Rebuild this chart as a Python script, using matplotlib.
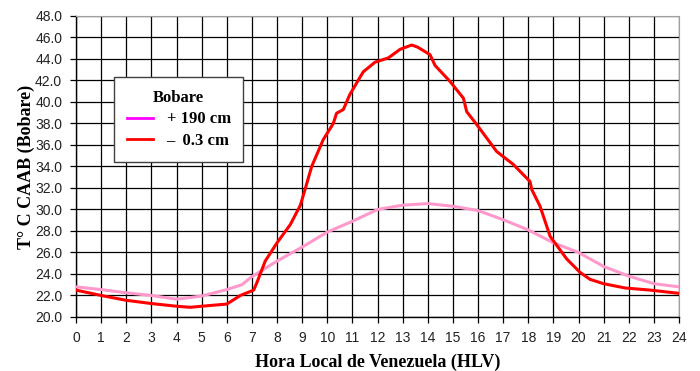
import numpy as np
import matplotlib.pyplot as plt
from matplotlib.lines import Line2D

# Bobare: air temperature at +190 cm (hourly)
hora_190 = [0, 1, 2, 3, 4, 5, 6, 6.6, 7, 8, 9, 10, 11, 12, 13, 14, 15, 16,
            17, 18, 19, 20, 21, 22, 23, 24]
temp_190 = [22.8, 22.55, 22.25, 22.0, 21.65, 21.95, 22.55, 23.0, 23.75, 25.2,
            26.5, 27.9, 28.9, 30.0, 30.4, 30.55, 30.3, 29.9, 29.05, 28.1,
            26.9, 26.0, 24.7, 23.8, 23.1, 22.8]

# Bobare: soil surface at -0.3 cm
hora_03 = [0, 1, 2, 3, 4, 4.55, 5, 6, 6.54, 7.07, 7.2, 7.53, 8, 8.53, 8.93,
           9.12, 9.38, 9.84, 10.24, 10.37, 10.64, 10.9, 11.43, 11.9, 12.43,
           12.9, 13.36, 13.6, 14.09, 14.29, 14.89, 15.42, 15.55, 15.95, 16.74,
           17.4, 18.07, 18.14, 18.47, 18.87, 19.53, 20.06, 20.46, 20.99,
           21.85, 22.85, 24]
temp_03 = [22.5, 22.0, 21.55, 21.25, 21.0, 20.9, 21.0, 21.2, 22.0, 22.5, 23.2,
           25.2, 26.9, 28.6, 30.4, 31.9, 34.0, 36.5, 38.0, 38.95, 39.3, 40.7,
           42.8, 43.7, 44.1, 44.9, 45.3, 45.1, 44.4, 43.4, 41.9, 40.35, 39.1,
           37.9, 35.4, 34.2, 32.6, 31.85, 30.3, 27.5, 25.4, 24.15, 23.5, 23.1,
           22.7, 22.5, 22.2]

x_ticks = list(range(0, 25))
y_ticks = np.arange(20, 49, 2)

fig = plt.figure(figsize=(7, 3.71), dpi=100)
ax = fig.add_axes([0.1086, 0.1456, 0.8614, 0.8113])

ax.plot(hora_190, temp_190, color='#ff99cc', lw=2.2, zorder=3)
ax.plot(hora_03, temp_03, color='#ff0000', lw=2.2, zorder=4)

ax.set_xlim(0, 24)
ax.set_ylim(20, 48)
ax.set_xticks(x_ticks)
ax.set_yticks(y_ticks)
ax.set_yticklabels([f"{v:.1f}" for v in y_ticks])
ax.grid(True, color='black', lw=0.9)
ax.set_axisbelow(True)

for side in ['top', 'right']:
    ax.spines[side].set_color('#a0a0a0')
for side in ['left', 'bottom']:
    ax.spines[side].set_color('black')
    ax.spines[side].set_linewidth(1.0)

ax.tick_params(axis='both', direction='out', length=4, width=0.9,
               labelsize=10, labelcolor='#222222', pad=6)
for lbl in ax.get_xticklabels() + ax.get_yticklabels():
    lbl.set_family('Liberation Sans')

ax.set_xlabel('Hora Local de Venezuela (HLV)', family='Liberation Serif',
              weight='bold', fontsize=13, labelpad=6)
ax.set_ylabel('T° C CAAB (Bobare)', family='Liberation Serif',
              weight='bold', fontsize=13, labelpad=0)

handles = [Line2D([], [], color='#ff00ff', lw=2),
           Line2D([], [], color='#ff0000', lw=2)]
leg = ax.legend(handles, ['+ 190 cm', '–  0.3 cm'], title='Bobare',
                loc='upper left', bbox_to_anchor=(0.063, 0.797),
                borderaxespad=0,
                prop={'family': 'Liberation Serif', 'weight': 'bold', 'size': 12},
                title_fontproperties={'family': 'Liberation Serif',
                                      'weight': 'bold', 'size': 12},
                frameon=True, fancybox=False, edgecolor='#404040',
                framealpha=1, handlelength=1.6, handletextpad=0.8,
                borderpad=0.75, labelspacing=0.35)
leg.get_frame().set_linewidth(1.0)
leg.set_zorder(5)

fig.savefig('out.png', dpi=100)
